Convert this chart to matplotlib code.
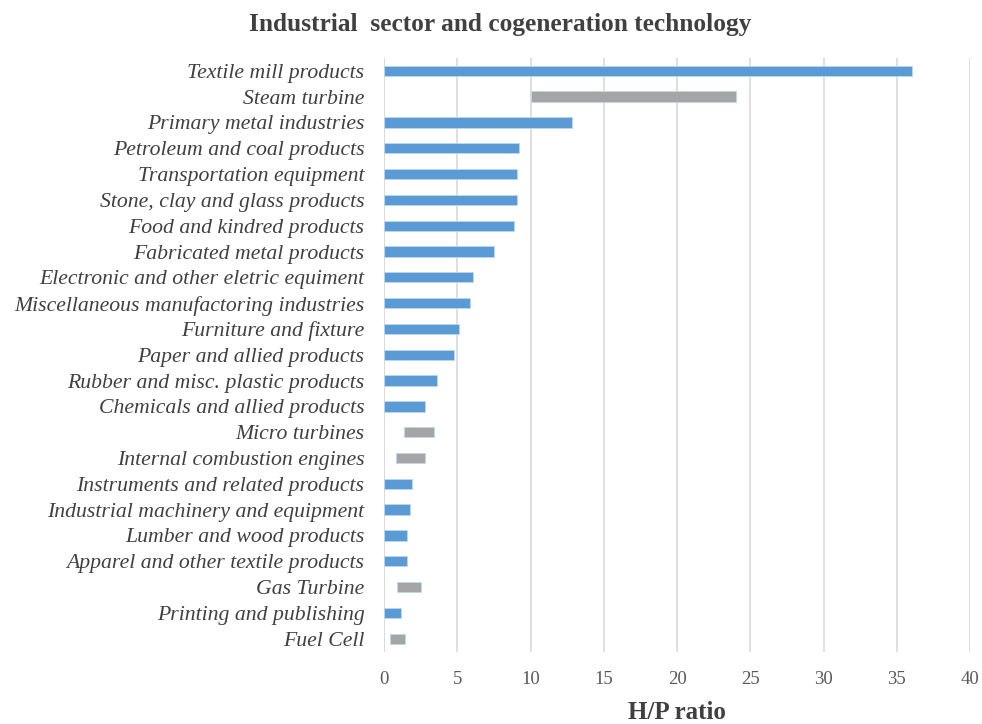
import matplotlib
matplotlib.use('Agg')
import numpy as np
import matplotlib.pyplot as plt

# H/P ratio per industrial sector (bars start at 0) and per technology (ranges)
labels = ['Textile mill products', 'Steam turbine', 'Primary metal industries',
          'Petroleum and coal products', 'Transportation equipment',
          'Stone, clay and glass products', 'Food and kindred products',
          'Fabricated metal products', 'Electronic and other eletric equiment',
          'Miscellaneous manufactoring industries', 'Furniture and fixture',
          'Paper and allied products', 'Rubber and misc. plastic products',
          'Chemicals and allied products', 'Micro turbines',
          'Internal combustion engines', 'Instruments and related products',
          'Industrial machinery and equipment', 'Lumber and wood products',
          'Apparel and other textile products', 'Gas Turbine',
          'Printing and publishing', 'Fuel Cell']
low = [0, 10, 0, 0, 0, 0, 0, 0, 0, 0, 0, 0, 0, 0, 1.4, 0.8, 0, 0, 0, 0, 0.9, 0, 0.4]
high = [36, 24, 12.8, 9.2, 9.1, 9.05, 8.85, 7.5, 6.1, 5.9, 5.1, 4.8, 3.6, 2.8,
        3.4, 2.8, 1.9, 1.8, 1.6, 1.6, 2.5, 1.15, 1.45]
is_tech = [False, True, False, False, False, False, False, False, False, False,
           False, False, False, False, True, True, False, False, False, False,
           True, False, True]

blue = '#5B9BD5'
grey = '#A5A5A5'
colors = [grey if t else blue for t in is_tech]

plt.rcParams['font.family'] = ['Liberation Serif', 'DejaVu Serif']

fig = plt.figure(figsize=(9.82, 7.24), dpi=100)
ax = fig.add_axes([0.391, 0.1, 0.597, 0.82])

y = np.arange(len(labels))
widths = np.array(high) - np.array(low)
ax.barh(y, widths, left=low, height=0.4, color=colors,
        edgecolor='#BDD7EE', linewidth=0.6, zorder=3)

ax.set_ylim(len(labels) - 0.5, -0.5)
ax.set_xlim(0, 40)
ax.set_xticks(np.arange(0, 41, 5))
ax.set_yticks(y)
ax.set_yticklabels(labels, style='italic', fontsize=15.7, color='#404040')
ax.tick_params(axis='y', length=0, pad=14)
ax.tick_params(axis='x', length=0, labelsize=13.5, labelcolor='#595959', pad=14)

ax.xaxis.grid(True, color='#D9D9D9', linewidth=1.2, zorder=0)
ax.axvline(0, color='#D9D9D9', linewidth=1.2, zorder=1)
for s in ax.spines.values():
    s.set_visible(False)

ax.set_xlabel('H/P ratio', fontsize=18, fontweight='bold', color='#404040', labelpad=9)
fig.suptitle('Industrial  sector and cogeneration technology', x=0.509, y=0.982,
             fontsize=18.3, fontweight='bold', color='#404040')

fig.savefig('out.png', dpi=100)
